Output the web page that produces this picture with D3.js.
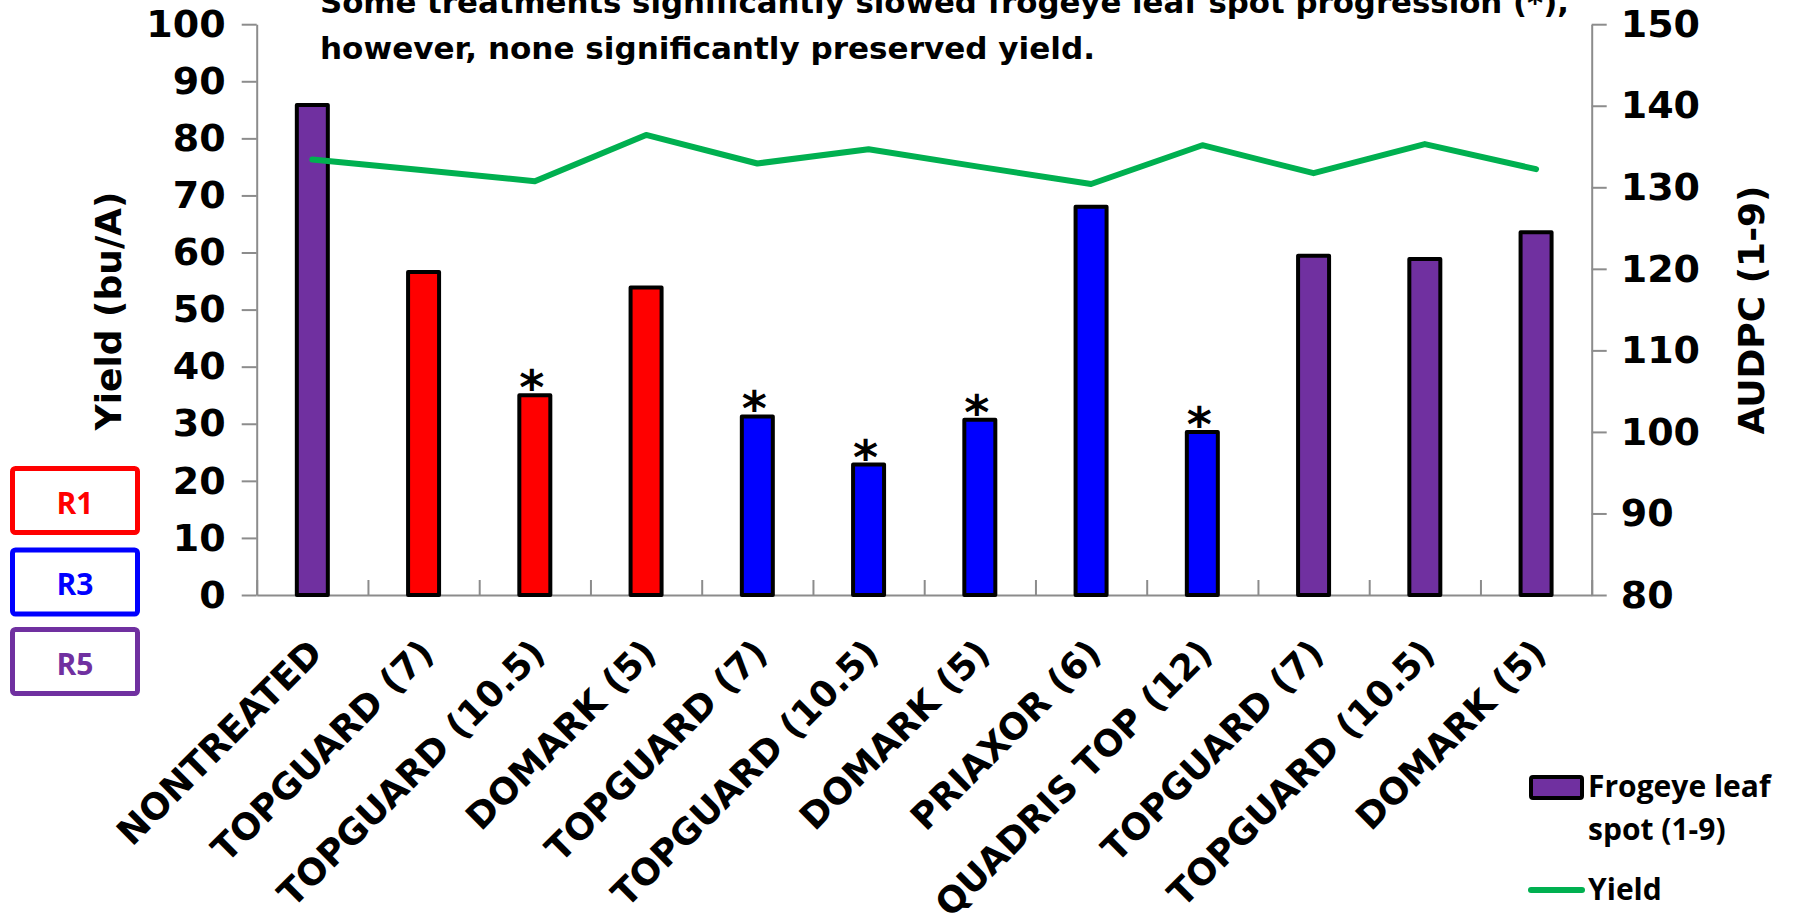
<!DOCTYPE html>
<html>
<head>
<meta charset="utf-8">
<script src="https://cdn.jsdelivr.net/npm/d3@7"></script>
<style>
  html, body { margin: 0; padding: 0; background: #ffffff; }
  svg { display: block; }
</style>
</head>
<body>
<script>
// Treatments (fungicide and rate, fl oz/A) in plot order
const treatments = [
  "NONTREATED", "TOPGUARD (7)", "TOPGUARD (10.5)", "DOMARK (5)",
  "TOPGUARD (7)", "TOPGUARD (10.5)", "DOMARK (5)", "PRIAXOR (6)",
  "QUADRIS TOP (12)", "TOPGUARD (7)", "TOPGUARD (10.5)", "DOMARK (5)"
];
// Application timing of each treatment ("CHECK" = nontreated)
const timing = ["CHECK", "R1", "R1", "R1", "R3", "R3", "R3", "R3", "R3", "R5", "R5", "R5"];
// Frogeye leaf spot AUDPC (right axis)
const audpc = [140.1, 119.6, 104.5, 117.7, 101.9, 96.0, 101.5, 127.6, 100.0, 121.6, 121.2, 124.5];
// Yield, bu/A (left axis)
const yieldBu = [76.3, 74.4, 72.5, 80.6, 75.6, 78.1, 75.0, 72.0, 78.8, 73.9, 79.0, 74.6];
// Significant slowing of disease progression
const significant = [false, false, true, false, true, true, true, false, true, false, false, false];
// Timing key boxes
const stages = ["R1", "R3", "R5"];
// Axis ticks
const yieldTicks = [0, 10, 20, 30, 40, 50, 60, 70, 80, 90, 100];
const audpcTicks = [80, 90, 100, 110, 120, 130, 140, 150];
// Title lines
const titleLines = [
  "Some treatments significantly slowed frogeye leaf spot progression (*),",
  "however, none significantly preserved yield."
];

const W = 1793, H = 917;
const plot = { left: 256.7, right: 1591.7, top: 24.2, bottom: 595 };
const WIDE = "'DejaVu Sans', Verdana, sans-serif";
const NARROW = "'Open Sans', 'Noto Sans', sans-serif";
const AXIS_GRAY = "#8c8c8c";
const GREEN = "#00B050";

const timingColor = d3.scaleOrdinal()
  .domain(["CHECK", "R1", "R3", "R5"])
  .range(["#7030A0", "#FF0000", "#0000FF", "#7030A0"]);

const svg = d3.select("body").append("svg")
  .attr("width", W).attr("height", H)
  .attr("viewBox", `0 0 ${W} ${H}`);

const idx = d3.range(treatments.length);
const x = d3.scaleBand().domain(idx).range([plot.left, plot.right]).padding(0);
const xEdge = d3.scaleLinear().domain([0, treatments.length]).range([plot.left, plot.right]);
const yLeft = d3.scaleLinear().domain([0, 100]).range([plot.bottom, plot.top]);
const yRight = d3.scaleLinear().domain([80, 150]).range([plot.bottom, plot.top]);

// ---- axes ----
function styleAxis(g) {
  g.attr("font-family", null).attr("font-size", null);
  g.selectAll("path.domain").attr("stroke", AXIS_GRAY).attr("stroke-width", 2);
  g.selectAll(".tick line").attr("stroke", AXIS_GRAY).attr("stroke-width", 2);
  g.selectAll(".tick text")
    .attr("fill", "#000")
    .style("font-family", WIDE)
    .style("font-weight", "bold")
    .style("font-size", "38px");
}

// category axis: baseline with upward ticks between treatments
svg.append("g")
  .attr("transform", `translate(0,${plot.bottom})`)
  .call(d3.axisBottom(xEdge).tickValues(d3.range(0, treatments.length + 1))
    .tickSize(-15).tickSizeOuter(0).tickFormat(""))
  .call(styleAxis);

svg.append("g")
  .attr("transform", `translate(${plot.left},0)`)
  .call(d3.axisLeft(yLeft).tickValues(yieldTicks).tickSize(15).tickSizeOuter(0).tickPadding(16))
  .call(styleAxis);

svg.append("g")
  .attr("transform", `translate(${plot.right},0)`)
  .call(d3.axisRight(yRight).tickValues(audpcTicks).tickSize(15).tickSizeOuter(0).tickPadding(14))
  .call(styleAxis);

// ---- bars: frogeye leaf spot AUDPC ----
const barW = 31;
svg.append("g").selectAll("rect")
  .data(idx)
  .join("rect")
  .attr("x", i => x(i) + x.bandwidth() / 2 - barW / 2)
  .attr("y", i => yRight(audpc[i]))
  .attr("width", barW)
  .attr("height", i => yRight(80) - yRight(audpc[i]))
  .attr("fill", i => timingColor(timing[i]))
  .attr("stroke", "#000")
  .attr("stroke-width", 4)
  .attr("stroke-linejoin", "round");

// significance markers
svg.append("g").selectAll("text")
  .data(idx.filter(i => significant[i]))
  .join("text")
  .attr("x", i => x(i) + x.bandwidth() / 2 - 3)
  .attr("y", i => yRight(audpc[i]) + 9)
  .attr("text-anchor", "middle")
  .style("font-family", WIDE)
  .style("font-weight", "bold")
  .style("font-size", "48px")
  .text("*");

// ---- yield line ----
const line = d3.line()
  .x(i => x(i) + x.bandwidth() / 2)
  .y(i => yLeft(yieldBu[i]));
svg.append("path")
  .datum(idx)
  .attr("d", line)
  .attr("fill", "none")
  .attr("stroke", GREEN)
  .attr("stroke-width", 6)
  .attr("stroke-linejoin", "round")
  .attr("stroke-linecap", "round");

// ---- category labels ----
svg.append("g").selectAll("text")
  .data(idx)
  .join("text")
  .attr("transform", i => `translate(${x(i) + x.bandwidth() / 2 + 12},${plot.bottom + 60}) rotate(-45)`)
  .attr("text-anchor", "end")
  .style("font-family", WIDE)
  .style("font-weight", "bold")
  .style("font-size", "36px")
  .text(i => treatments[i]);

// ---- axis titles ----
svg.append("text")
  .attr("transform", "translate(121,311) rotate(-90)")
  .attr("text-anchor", "middle")
  .style("font-family", WIDE).style("font-weight", "bold").style("font-size", "36px")
  .text("Yield (bu/A)");

svg.append("text")
  .attr("transform", "translate(1764,310) rotate(-90)")
  .attr("text-anchor", "middle")
  .style("font-family", WIDE).style("font-weight", "bold").style("font-size", "36px")
  .text("AUDPC (1-9)");

// ---- title ----
svg.append("g").selectAll("text")
  .data(titleLines)
  .join("text")
  .attr("x", 320)
  .attr("y", (d, i) => 13 + i * 46)
  .attr("textLength", (d, i) => i === 0 ? 1249 : 775)
  .attr("lengthAdjust", "spacingAndGlyphs")
  .style("font-family", WIDE).style("font-weight", "bold").style("font-size", "31px")
  .text(d => d);

// ---- timing key ----
const key = svg.append("g").selectAll("g")
  .data(stages)
  .join("g")
  .attr("transform", (d, i) => `translate(12.5,${[468.5, 550, 629.5][i]})`);
key.append("rect")
  .attr("width", 125).attr("height", 64).attr("rx", 3)
  .attr("fill", "#fff")
  .attr("stroke", d => timingColor(d))
  .attr("stroke-width", 5);
key.append("text")
  .attr("x", 62.5).attr("y", 45)
  .attr("text-anchor", "middle")
  .attr("fill", d => timingColor(d))
  .style("font-family", NARROW).style("font-weight", "bold").style("font-size", "30px")
  .text(d => d);

// ---- legend ----
const legend = svg.append("g");
legend.append("rect")
  .attr("x", 1531).attr("y", 777).attr("width", 51).attr("height", 21).attr("rx", 2)
  .attr("fill", timingColor("R5")).attr("stroke", "#000").attr("stroke-width", 4);
legend.append("text")
  .attr("x", 1588).attr("y", 797)
  .style("font-family", NARROW).style("font-weight", "bold").style("font-size", "30px")
  .text("Frogeye leaf");
legend.append("text")
  .attr("x", 1588).attr("y", 840)
  .style("font-family", NARROW).style("font-weight", "bold").style("font-size", "30px")
  .text("spot (1-9)");
legend.append("line")
  .attr("x1", 1531).attr("x2", 1582).attr("y1", 890).attr("y2", 890)
  .attr("stroke", GREEN).attr("stroke-width", 6).attr("stroke-linecap", "round");
legend.append("text")
  .attr("x", 1588).attr("y", 900)
  .style("font-family", NARROW).style("font-weight", "bold").style("font-size", "30px")
  .text("Yield");
</script>
</body>
</html>
